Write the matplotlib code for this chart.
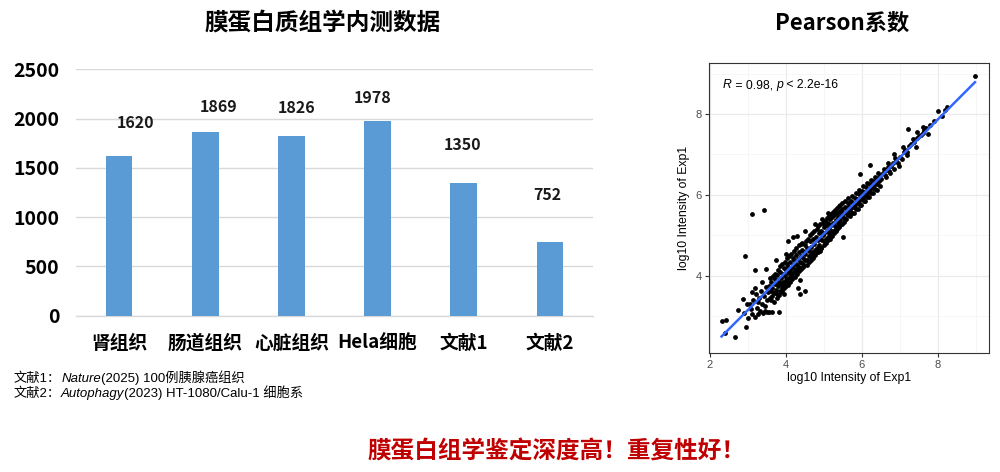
import matplotlib

matplotlib.use("Agg")

import matplotlib.pyplot as plt
import numpy as np

# ---- bar chart data ----
categories = ["肾组织", "肠道组织", "心脏组织", "Hela细胞", "文献1", "文献2"]
protein_counts = [1620, 1869, 1826, 1978, 1350, 752]
y_ticks = [0, 500, 1000, 1500, 2000, 2500]

# label nudges in pixels (dx, dy above the bar top)
label_offsets = [(16, 33), (13, 25), (5, 28), (-5, 23), (-1, 38), (-3, 47)]

# ---- scatter data (log10 intensity) ----
exp_x = [
    2.31, 2.43, 2.40, 2.67, 2.96, 2.75, 2.92, 3.12, 3.42, 2.88,
    2.90, 2.98, 3.00, 3.05, 3.08, 3.10, 3.10, 3.15, 3.18, 3.20,
    3.22, 3.25, 3.28, 3.30, 3.32, 3.35, 3.38, 3.40, 3.42, 3.45,
    3.47, 3.48, 3.50, 3.50, 3.52, 3.38, 3.45, 3.55, 3.18, 3.28,
    3.55, 3.58, 3.60, 3.62, 3.63, 3.65, 3.68, 3.70, 3.72, 3.74,
    3.75, 3.77, 3.78, 3.80, 3.82, 3.84, 3.85, 3.87, 3.88, 3.90,
    3.92, 3.93, 3.95, 3.96, 3.98, 4.00, 4.00, 4.02, 4.04, 4.05,
    4.07, 4.08, 4.10, 4.12, 4.13, 4.15, 4.17, 4.18, 4.20, 4.22,
    4.23, 4.25, 4.27, 4.28, 4.30, 4.32, 4.33, 4.35, 4.37, 4.38,
    4.40, 4.42, 4.43, 4.45, 4.47, 4.48, 4.50, 4.50,
    4.19, 4.29, 4.00, 3.75, 4.37, 4.31, 4.37, 4.50, 3.65, 3.83, 3.95, 4.06,
    4.52, 4.55, 4.57, 4.60, 4.62, 4.63, 4.65, 4.67, 4.70, 4.72,
    4.73, 4.75, 4.77, 4.80, 4.82, 4.83, 4.85, 4.87, 4.88, 4.90,
    4.92, 4.93, 4.95, 4.97, 5.00, 5.00, 5.02, 5.05, 5.07, 5.08,
    5.10, 5.12, 5.13, 5.15, 5.17, 5.18, 5.20, 5.22, 5.23, 5.25,
    5.27, 5.28, 5.30, 5.32, 5.33, 5.35, 5.37, 5.38, 5.40, 5.42,
    5.43, 5.45, 5.47, 5.48, 5.50,
    4.76, 4.50, 5.51, 4.95, 5.10,
    5.52, 5.55, 5.57, 5.60, 5.62, 5.63, 5.65, 5.67, 5.70, 5.72,
    5.73, 5.75, 5.77, 5.80, 5.82, 5.83, 5.85, 5.87, 5.90, 5.92,
    5.93, 5.95, 5.97, 6.00, 6.02, 6.03, 6.05, 6.07, 6.10, 6.12,
    6.13, 6.15, 6.17, 6.20, 6.22, 6.23, 6.25, 6.27, 6.30, 6.32,
    6.33, 6.35, 6.37, 6.40, 6.42, 6.45, 6.47, 6.50,
    5.95, 6.21,
    6.55, 6.60, 6.65, 6.70, 6.72, 6.78, 6.82, 6.85, 6.90, 6.95,
    7.00, 7.05, 7.10, 7.15, 7.20, 7.25, 7.30, 7.38, 7.45, 7.50,
    7.55, 7.60, 7.65, 7.70, 7.80, 7.90, 8.00, 8.10, 8.25, 8.20,
    7.22, 8.98, 6.85, 7.45,
    3.58, 3.62, 3.66, 3.70, 3.73, 3.76, 3.79, 3.81, 3.86, 3.89,
    3.91, 3.94, 3.97, 3.99, 4.03, 4.06, 4.09, 4.11, 4.14, 4.16,
    4.21, 4.24, 4.26, 4.29, 4.34, 4.36, 4.39, 4.41, 4.44, 4.46,
    4.53, 4.56, 4.59, 4.61, 4.64, 4.66, 4.69, 4.71, 4.74, 4.78,
    4.81, 4.84, 4.86, 4.89, 4.91, 4.94, 4.98, 5.01, 5.04, 5.06,
    5.09, 5.11, 5.14, 5.16, 5.19, 5.21, 5.24, 5.26, 5.29, 5.31,
    5.34, 5.36, 5.39, 5.41, 5.44, 5.46, 5.49, 5.53, 5.56, 5.59,
    5.64, 5.69, 5.74, 5.79, 5.84, 5.89, 5.94, 5.99, 6.04, 6.09,
    6.14, 6.19, 6.24, 6.29, 6.34, 6.39, 6.44, 6.49, 6.58, 6.63,
    6.68, 6.75, 6.88, 6.98, 7.08, 7.18, 7.35, 7.42, 7.62, 7.75,
]
exp_y = [
    2.89, 2.92, 2.59, 2.49, 2.74, 3.15, 4.49, 5.54, 5.62, 3.42,
    3.08, 3.30, 2.95, 3.30, 3.18, 3.59, 3.05, 3.40, 4.14, 2.98,
    3.55, 3.20, 3.05, 3.45, 3.12, 3.62, 3.30, 3.08, 3.50, 3.25,
    4.17, 3.72, 3.40, 3.10, 3.60, 3.85, 3.12, 3.10, 3.70, 3.35,
    3.75, 3.45, 3.62, 3.85, 3.50, 3.70, 3.95, 3.58, 3.80, 3.66,
    3.90, 3.55, 4.02, 3.75, 3.85, 3.62, 4.10, 3.80, 3.95, 3.70,
    4.05, 3.85, 4.20, 3.78, 4.00, 3.90, 4.15, 4.30, 3.85, 4.08,
    4.22, 3.95, 4.12, 4.35, 4.00, 4.20, 4.05, 4.45, 4.28, 4.10,
    4.38, 4.18, 4.52, 4.30, 4.15, 4.42, 4.25, 4.60, 4.35, 4.20,
    4.50, 4.32, 4.65, 4.45, 4.28, 4.58, 4.40, 4.75,
    4.96, 4.98, 4.55, 4.40, 3.89, 3.71, 3.56, 3.62, 3.10, 3.10, 3.55, 4.86,
    4.55, 4.38, 4.70, 4.50, 4.62, 4.85, 4.48, 4.72, 4.60, 4.90,
    4.55, 4.78, 4.65, 4.95, 4.70, 4.58, 4.88, 5.05, 4.75, 4.92,
    4.70, 5.10, 4.88, 5.00, 4.85, 5.20, 5.05, 4.90, 5.25, 5.10,
    4.95, 5.30, 5.05, 5.18, 5.40, 5.00, 5.25, 5.12, 5.45, 5.30,
    5.10, 5.50, 5.22, 5.38, 5.15, 5.55, 5.30, 5.45, 5.20, 5.60,
    5.38, 5.50, 5.28, 5.65, 5.45,
    5.28, 5.10, 4.96, 5.40, 5.55,
    5.55, 5.40, 5.70, 5.52, 5.62, 5.80, 5.50, 5.72, 5.60, 5.85,
    5.68, 5.55, 5.80, 5.70, 5.92, 5.75, 5.65, 5.90, 5.80, 6.02,
    5.85, 5.75, 6.00, 5.90, 6.10, 5.95, 5.85, 6.08, 6.00, 6.20,
    6.05, 5.95, 6.15, 6.10, 6.28, 6.15, 6.05, 6.25, 6.18, 6.35,
    6.25, 6.15, 6.32, 6.28, 6.42, 6.35, 6.50, 6.40,
    6.51, 6.73,
    6.55, 6.50, 6.62, 6.68, 6.58, 6.72, 6.78, 6.65, 6.85, 6.80,
    6.95, 6.90, 7.05, 7.12, 7.05, 7.20, 7.25, 7.30, 7.40, 7.45,
    7.48, 7.52, 7.60, 7.65, 7.72, 7.82, 8.07, 7.95, 8.18, 8.10,
    7.62, 8.95, 7.00, 7.55,
    3.95, 3.40, 4.00, 3.35, 4.05, 3.45, 4.15, 3.52, 4.25, 3.60,
    4.30, 3.68, 4.35, 3.72, 4.45, 3.78, 4.50, 3.85, 4.55, 3.92,
    4.62, 3.98, 4.68, 4.05, 4.75, 4.12, 4.78, 4.18, 4.82, 4.22,
    4.85, 4.28, 4.92, 4.35, 5.00, 4.40, 5.05, 4.45, 5.10, 4.52,
    5.15, 4.58, 5.22, 4.62, 5.28, 4.68, 5.30, 4.75, 5.35, 4.82,
    5.42, 4.88, 5.48, 4.92, 5.52, 4.98, 5.58, 5.05, 5.62, 5.10,
    5.68, 5.15, 5.72, 5.22, 5.75, 5.28, 5.80, 5.32, 5.85, 5.40,
    5.92, 5.48, 5.98, 5.55, 6.05, 5.65, 6.12, 5.75, 6.22, 5.85,
    6.30, 5.95, 6.38, 6.05, 6.45, 6.12, 6.55, 6.22, 6.65, 6.45,
    6.78, 6.55, 6.92, 6.72, 7.18, 6.98, 7.38, 7.18, 7.68, 7.50,
]
x_major = [2, 4, 6, 8]
y_major = [4, 6, 8]
minor_ticks = [3, 5, 7, 9]

CJK = ["Noto Sans CJK SC", "DejaVu Sans"]
LATIN = ["Liberation Sans", "Noto Sans CJK SC", "DejaVu Sans"]


def put_runs(fig, transform, width_px, x, y, runs, **kw):
    """Place text pieces one after another on a shared baseline."""
    renderer = fig.canvas.get_renderer()
    for text, style in runs:
        t = fig.text(x, y, text, transform=transform, va="baseline",
                     ha="left", style=style, **kw)
        x += t.get_window_extent(renderer).width / width_px


fig = plt.figure(figsize=(10, 4.72), dpi=100)

# ---------------- bar chart ----------------
ax = fig.add_axes([0.076, 0.331, 0.517, 0.522])
pos = np.arange(len(categories))
bars = ax.bar(pos, protein_counts, width=0.31, color="#5B9BD5", zorder=3)
for rect, value, (dx, dy) in zip(bars, protein_counts, label_offsets):
    ax.annotate(f"{value}", (rect.get_x() + rect.get_width() / 2, value),
                xytext=(dx, dy), textcoords="offset pixels",
                ha="center", va="center", fontsize=11.5, fontweight="bold",
                family=CJK, color="#1a1a1a")
ax.set_xlim(-0.5, len(categories) - 0.5)
ax.set_ylim(0, 2500)
ax.set_yticks(y_ticks)
ax.set_xticks(pos)
ax.set_xticklabels(categories)
ax.yaxis.grid(True, color="#D9D9D9", linewidth=1.0, zorder=0)
ax.set_axisbelow(True)
for side in ("left", "right", "top"):
    ax.spines[side].set_visible(False)
ax.spines["bottom"].set_color("#D9D9D9")
ax.spines["bottom"].set_linewidth(1.0)
ax.tick_params(axis="both", length=0)
ax.tick_params(axis="y", pad=12)
ax.tick_params(axis="x", pad=13)
for lab in ax.get_yticklabels():
    lab.set_family(CJK)
    lab.set_fontweight("bold")
    lab.set_fontsize(14)
for lab in ax.get_xticklabels():
    lab.set_family(CJK)
    lab.set_fontweight("bold")
    lab.set_fontsize(13.5)

fig.text(0.323, 0.952, "膜蛋白质组学内测数据", ha="center", va="center",
         fontsize=17, fontweight="bold", family=CJK)

# ---------------- scatter ----------------
ax2 = fig.add_axes([0.709, 0.2528, 0.280, 0.6144])
ax2.scatter(exp_x, exp_y, s=12, color="black", linewidths=0, zorder=3)
slope, intercept = np.polyfit(exp_x, exp_y, 1)
line_x = np.array([min(exp_x), max(exp_x)])
ax2.plot(line_x, slope * line_x + intercept, color="#3366FF", linewidth=1.8,
         zorder=4)
ax2.set_xlim(1.98, 9.35)
ax2.set_ylim(2.10, 9.27)
ax2.set_xticks(x_major)
ax2.set_yticks(y_major)
ax2.set_xticks(minor_ticks, minor=True)
ax2.set_yticks(minor_ticks, minor=True)
ax2.grid(True, which="major", color="#EBEBEB", linewidth=0.9, zorder=0)
ax2.grid(True, which="minor", color="#F5F5F5", linewidth=0.6, zorder=0)
ax2.set_axisbelow(True)
for sp in ax2.spines.values():
    sp.set_color("#333333")
    sp.set_linewidth(0.8)
ax2.tick_params(which="major", length=3, width=0.8, color="#333333",
                labelsize=8, labelcolor="#4D4D4D", pad=2)
ax2.tick_params(which="minor", length=0)
for lab in ax2.get_xticklabels() + ax2.get_yticklabels():
    lab.set_family(LATIN)
ax2.set_xlabel("log10 Intensity of Exp1", family=LATIN, fontsize=8.8,
               labelpad=2)
ax2.set_ylabel("log10 Intensity of Exp1", family=LATIN, fontsize=8.8,
               labelpad=4)

put_runs(fig, ax2.transAxes, ax2.bbox.width, 0.049, 0.912,
         [("R", "italic"), (" = 0.98, ", "normal"), ("p", "italic"),
          (" < 2.2e-16", "normal")],
         fontsize=8.8, family=LATIN, color="black")

fig.text(0.842, 0.950, "Pearson系数", ha="center", va="center",
         fontsize=16, fontweight="bold", family=CJK)

# ---------------- footnotes ----------------
put_runs(fig, fig.transFigure, fig.bbox.width, 0.014, 0.191,
         [("文献1：", "normal"), ("Nature", "italic"),
          ("(2025) 100例胰腺癌组织", "normal")],
         fontsize=9.5, family=LATIN, color="black")
put_runs(fig, fig.transFigure, fig.bbox.width, 0.014, 0.159,
         [("文献2：", "normal"), ("Autophagy", "italic"),
          ("(2023) HT-1080/Calu-1 细胞系", "normal")],
         fontsize=9.5, family=LATIN, color="black")

fig.text(0.557, 0.044, "膜蛋白组学鉴定深度高！重复性好！", ha="center",
         va="center", fontsize=17, fontweight="bold", family=CJK,
         color="#C00000")

fig.savefig("out.png", dpi=100, facecolor="white")
plt.close(fig)
